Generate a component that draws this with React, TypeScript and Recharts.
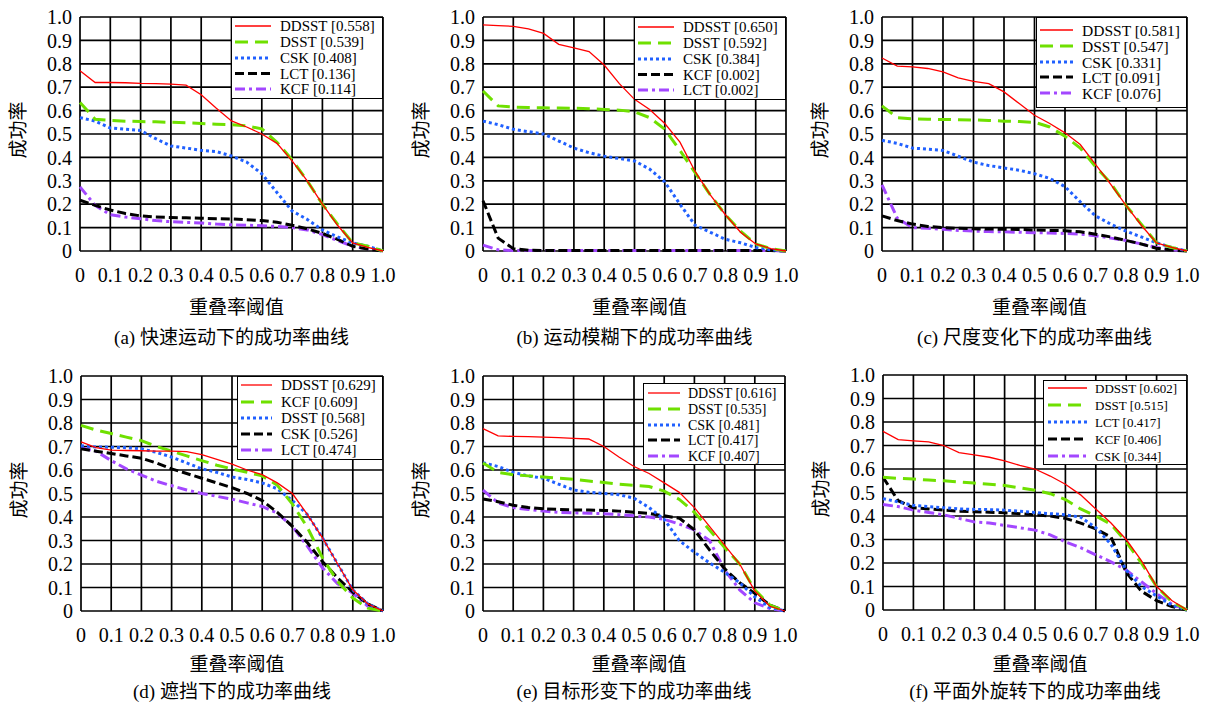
import React from "react";
import { LineChart, Line, XAxis, YAxis, CartesianGrid, Legend } from "recharts";

const thresholds = [0, 0.05, 0.1, 0.15, 0.2, 0.25, 0.3, 0.35, 0.4, 0.45, 0.5, 0.55, 0.6, 0.65, 0.7, 0.75, 0.8, 0.85, 0.9, 0.95, 1.0];
const axisTicks = [0, 0.1, 0.2, 0.3, 0.4, 0.5, 0.6, 0.7, 0.8, 0.9, 1.0];
const axisTickLabels = ["0", "0.1", "0.2", "0.3", "0.4", "0.5", "0.6", "0.7", "0.8", "0.9", "1.0"];

const xTitle = "重叠率阈值";
const yTitle = "成功率";

// (a) fast motion
const fastNames = ["DDSST", "DSST", "CSK", "LCT", "KCF"];
const fastScores = ["0.558", "0.539", "0.408", "0.136", "0.114"];
const fastDDSST = [0.77, 0.72, 0.72, 0.719, 0.716, 0.715, 0.713, 0.709, 0.668, 0.61, 0.556, 0.53, 0.5, 0.46, 0.385, 0.3, 0.2, 0.11, 0.035, 0.015, 0];
const fastDSST = [0.635, 0.563, 0.558, 0.555, 0.553, 0.552, 0.55, 0.548, 0.545, 0.542, 0.54, 0.535, 0.522, 0.465, 0.39, 0.3, 0.2, 0.115, 0.035, 0.02, 0];
const fastCSK = [0.57, 0.555, 0.526, 0.52, 0.515, 0.48, 0.449, 0.44, 0.43, 0.425, 0.406, 0.38, 0.33, 0.25, 0.171, 0.135, 0.09, 0.06, 0.035, 0.02, 0];
const fastLCT = [0.217, 0.195, 0.175, 0.16, 0.15, 0.145, 0.143, 0.142, 0.14, 0.138, 0.137, 0.134, 0.13, 0.123, 0.11, 0.095, 0.075, 0.05, 0.02, 0.008, 0];
const fastKCF = [0.274, 0.195, 0.155, 0.145, 0.138, 0.13, 0.125, 0.122, 0.12, 0.115, 0.112, 0.11, 0.108, 0.105, 0.1, 0.09, 0.07, 0.045, 0.02, 0.01, 0];

// (b) motion blur
const blurNames = ["DDSST", "DSST", "CSK", "KCF", "LCT"];
const blurScores = ["0.650", "0.592", "0.384", "0.002", "0.002"];
const blurDDSST = [0.966, 0.963, 0.96, 0.949, 0.93, 0.883, 0.868, 0.852, 0.795, 0.715, 0.648, 0.605, 0.545, 0.465, 0.34, 0.24, 0.155, 0.08, 0.03, 0.01, 0];
const blurDSST = [0.684, 0.62, 0.615, 0.613, 0.612, 0.611, 0.61, 0.608, 0.605, 0.602, 0.595, 0.57, 0.52, 0.43, 0.335, 0.24, 0.155, 0.085, 0.03, 0.01, 0];
const blurCSK = [0.555, 0.54, 0.52, 0.51, 0.5, 0.47, 0.44, 0.42, 0.405, 0.395, 0.385, 0.35, 0.295, 0.2, 0.11, 0.08, 0.05, 0.035, 0.015, 0.005, 0];
const blurKCF = [0.215, 0.055, 0.01, 0.003, 0.002, 0.002, 0.002, 0.002, 0.002, 0.002, 0.002, 0.002, 0.002, 0.002, 0.002, 0.002, 0.002, 0.002, 0.002, 0.002, 0];
const blurLCT = [0.025, 0.005, 0.002, 0.002, 0.002, 0.002, 0.002, 0.002, 0.002, 0.002, 0.002, 0.002, 0.002, 0.002, 0.002, 0.002, 0.002, 0.002, 0.002, 0.002, 0];

// (c) scale variation
const scaleNames = ["DDSST", "DSST", "CSK", "LCT", "KCF"];
const scaleScores = ["0.581", "0.547", "0.331", "0.091", "0.076"];
const scaleDDSST = [0.825, 0.79, 0.787, 0.78, 0.765, 0.74, 0.725, 0.715, 0.68, 0.63, 0.58, 0.545, 0.505, 0.455, 0.37, 0.285, 0.195, 0.11, 0.035, 0.015, 0];
const scaleDSST = [0.62, 0.57, 0.565, 0.563, 0.562, 0.561, 0.56, 0.558, 0.555, 0.553, 0.55, 0.53, 0.49, 0.44, 0.36, 0.29, 0.195, 0.115, 0.035, 0.015, 0];
const scaleCSK = [0.473, 0.46, 0.44, 0.435, 0.43, 0.405, 0.38, 0.365, 0.355, 0.345, 0.33, 0.31, 0.275, 0.21, 0.15, 0.115, 0.085, 0.06, 0.035, 0.015, 0];
const scaleLCT = [0.15, 0.13, 0.115, 0.105, 0.1, 0.097, 0.095, 0.094, 0.093, 0.092, 0.09, 0.088, 0.087, 0.082, 0.072, 0.06, 0.045, 0.03, 0.012, 0.004, 0];
const scaleKCF = [0.283, 0.14, 0.1, 0.097, 0.093, 0.088, 0.085, 0.083, 0.082, 0.08, 0.078, 0.077, 0.075, 0.072, 0.065, 0.055, 0.045, 0.03, 0.015, 0.005, 0];

// (d) occlusion
const occNames = ["DDSST", "KCF", "DSST", "CSK", "LCT"];
const occScores = ["0.629", "0.609", "0.568", "0.526", "0.474"];
const occDDSST = [0.72, 0.695, 0.685, 0.683, 0.682, 0.68, 0.68, 0.678, 0.665, 0.645, 0.625, 0.6, 0.58, 0.545, 0.5, 0.41, 0.31, 0.2, 0.09, 0.03, 0];
const occKCF = [0.79, 0.77, 0.755, 0.74, 0.725, 0.7, 0.68, 0.66, 0.64, 0.62, 0.605, 0.59, 0.575, 0.535, 0.455, 0.355, 0.225, 0.125, 0.055, 0.012, 0];
const occDSST = [0.703, 0.698, 0.697, 0.695, 0.69, 0.675, 0.655, 0.63, 0.605, 0.59, 0.57, 0.56, 0.545, 0.52, 0.47, 0.41, 0.31, 0.2, 0.09, 0.03, 0];
const occCSK = [0.69, 0.68, 0.67, 0.66, 0.65, 0.63, 0.605, 0.585, 0.565, 0.545, 0.525, 0.5, 0.47, 0.42, 0.36, 0.29, 0.21, 0.14, 0.08, 0.03, 0];
const occLCT = [0.695, 0.68, 0.64, 0.605, 0.578, 0.552, 0.533, 0.515, 0.5, 0.488, 0.476, 0.46, 0.445, 0.416, 0.36, 0.275, 0.183, 0.116, 0.076, 0.02, 0];

// (e) deformation
const defNames = ["DDSST", "DSST", "CSK", "LCT", "KCF"];
const defScores = ["0.616", "0.535", "0.481", "0.417", "0.407"];
const defDDSST = [0.776, 0.745, 0.743, 0.742, 0.74, 0.738, 0.735, 0.732, 0.7, 0.655, 0.615, 0.585, 0.545, 0.505, 0.44, 0.36, 0.28, 0.2, 0.085, 0.02, 0];
const defDSST = [0.63, 0.59, 0.58, 0.575, 0.57, 0.565, 0.56, 0.553, 0.547, 0.54, 0.535, 0.53, 0.51, 0.475, 0.42, 0.345, 0.27, 0.2, 0.09, 0.025, 0];
const defCSK = [0.631, 0.615, 0.59, 0.575, 0.565, 0.54, 0.515, 0.505, 0.5, 0.495, 0.48, 0.44, 0.39, 0.3, 0.25, 0.205, 0.165, 0.12, 0.06, 0.015, 0];
const defLCT = [0.477, 0.465, 0.45, 0.44, 0.435, 0.432, 0.43, 0.43, 0.428, 0.425, 0.42, 0.415, 0.405, 0.395, 0.345, 0.26, 0.18, 0.12, 0.075, 0.025, 0];
const defKCF = [0.514, 0.46, 0.44, 0.432, 0.425, 0.42, 0.418, 0.416, 0.414, 0.41, 0.405, 0.4, 0.39, 0.37, 0.345, 0.3, 0.175, 0.09, 0.035, 0.01, 0];

// (f) out-of-plane rotation
const oprNames = ["DDSST", "DSST", "LCT", "KCF", "CSK"];
const oprScores = ["0.602", "0.515", "0.417", "0.406", "0.344"];
const oprDDSST = [0.76, 0.725, 0.72, 0.715, 0.7, 0.67, 0.66, 0.65, 0.635, 0.615, 0.6, 0.57, 0.535, 0.49, 0.43, 0.37, 0.3, 0.21, 0.1, 0.04, 0];
const oprDSST = [0.565, 0.56, 0.557, 0.553, 0.55, 0.545, 0.54, 0.535, 0.53, 0.52, 0.51, 0.495, 0.47, 0.43, 0.4, 0.365, 0.29, 0.2, 0.1, 0.035, 0];
const oprLCT = [0.474, 0.46, 0.445, 0.44, 0.435, 0.43, 0.428, 0.427, 0.425, 0.42, 0.415, 0.41, 0.405, 0.395, 0.35, 0.28, 0.17, 0.1, 0.06, 0.02, 0];
const oprKCF = [0.565, 0.465, 0.435, 0.43, 0.425, 0.42, 0.418, 0.416, 0.414, 0.41, 0.405, 0.4, 0.39, 0.37, 0.345, 0.31, 0.16, 0.08, 0.04, 0.015, 0];
const oprCSK = [0.449, 0.44, 0.425, 0.415, 0.405, 0.39, 0.375, 0.37, 0.36, 0.35, 0.34, 0.32, 0.29, 0.265, 0.235, 0.205, 0.17, 0.12, 0.07, 0.025, 0];

const SERIF = "'Liberation Serif', 'Noto Sans CJK SC', serif";

// line style by legend position (rank), not by tracker name
const rankStyles = [
  { color: "#ff0000", width: 1.3, dash: undefined as string | undefined },
  { color: "#6fe000", width: 3, dash: "13 7" },
  { color: "#2060ff", width: 3, dash: "3 3" },
  { color: "#000000", width: 3, dash: "9 4" },
  { color: "#a347ff", width: 3, dash: "10 4 3 4" },
];

const panels = [
  {
    id: "a", caption: "(a) 快速运动下的成功率曲线", names: fastNames, scores: fastScores,
    series: [fastDDSST, fastDSST, fastCSK, fastLCT, fastKCF],
    plot: { x: 80, y: 17, w: 303, h: 234 }, xLabelY: 308, captionY: 338,
    legend: { x: 231, y: 17, w: 152, h: 82, rows: [9, 25, 41, 56.5, 72], line: [4, 40], textX: 49, font: 15 },
  },
  {
    id: "b", caption: "(b) 运动模糊下的成功率曲线", names: blurNames, scores: blurScores,
    series: [blurDDSST, blurDSST, blurCSK, blurKCF, blurLCT],
    plot: { x: 483, y: 17, w: 303, h: 234 }, xLabelY: 308, captionY: 338,
    legend: { x: 634, y: 17, w: 152, h: 83, rows: [10, 26, 42, 57.5, 73], line: [4, 40], textX: 49, font: 15 },
  },
  {
    id: "c", caption: "(c) 尺度变化下的成功率曲线", names: scaleNames, scores: scaleScores,
    series: [scaleDDSST, scaleDSST, scaleCSK, scaleLCT, scaleKCF],
    plot: { x: 882, y: 17, w: 305, h: 234 }, xLabelY: 308, captionY: 338,
    legend: { x: 1036, y: 17, w: 151, h: 91, rows: [13, 29, 45, 60, 76], line: [4, 37], textX: 46, font: 15.5 },
  },
  {
    id: "d", caption: "(d) 遮挡下的成功率曲线", names: occNames, scores: occScores,
    series: [occDDSST, occKCF, occDSST, occCSK, occLCT],
    plot: { x: 81, y: 376, w: 302, h: 235 }, xLabelY: 665, captionY: 692,
    legend: { x: 237, y: 376, w: 146, h: 84, rows: [9, 26, 42, 58, 74], line: [4, 35], textX: 44, font: 15 },
  },
  {
    id: "e", caption: "(e) 目标形变下的成功率曲线", names: defNames, scores: defScores,
    series: [defDDSST, defDSST, defCSK, defLCT, defKCF],
    plot: { x: 483, y: 376, w: 302, h: 235 }, xLabelY: 665, captionY: 692,
    legend: { x: 643, y: 383, w: 142, h: 82, rows: [10, 26, 42, 57, 73], line: [5, 37], textX: 45, font: 14 },
  },
  {
    id: "f", caption: "(f) 平面外旋转下的成功率曲线", names: oprNames, scores: oprScores,
    series: [oprDDSST, oprDSST, oprLCT, oprKCF, oprCSK],
    plot: { x: 883, y: 375, w: 304, h: 235 }, xLabelY: 665, captionY: 692,
    legend: { x: 1043, y: 380, w: 144, h: 85, rows: [8, 25, 42, 59, 76], line: [5, 44], textX: 52, font: 13 },
  },
];

type PanelDef = (typeof panels)[number];

const fmtTick = (v: number) => axisTickLabels[axisTicks.findIndex((t) => Math.abs(t - v) < 1e-6)] ?? String(v);

const PanelLegend = ({ p }: { p: PanelDef }) => {
  const L = p.legend;
  return (
    <svg width={L.w} height={L.h} style={{ display: "block" }}>
      <rect x={0.5} y={0.5} width={L.w - 1} height={L.h - 1} fill="#fff" stroke="#000" strokeWidth={1} />
      {p.names.map((name, i) => {
        const st = rankStyles[i];
        return (
          <g key={name}>
            <line x1={L.line[0]} x2={L.line[1]} y1={L.rows[i]} y2={L.rows[i]} stroke={st.color} strokeWidth={st.width} strokeDasharray={st.dash} />
            <text x={L.textX} y={L.rows[i]} dominantBaseline="central" fontFamily={SERIF} fontSize={L.font} fill="#000">
              {`${name} [${p.scores[i]}]`}
            </text>
          </g>
        );
      })}
    </svg>
  );
};

const Panel = ({ p }: { p: PanelDef }) => {
  const padL = 80, padT = 17, padR = 17, padB = 40;
  const left = p.plot.x - padL;
  const top = p.plot.y - padT;
  const width = p.plot.w + padL + padR;
  const height = p.plot.h + padT + padB;
  const data = thresholds.map((t, i) => {
    const row: Record<string, number> = { t };
    p.series.forEach((s, k) => (row[`s${k}`] = s[i]));
    return row;
  });
  const order = [4, 3, 2, 1, 0];
  const cx = p.plot.x + p.plot.w / 2;
  const cy = p.plot.y + p.plot.h / 2;
  return (
    <>
      <div style={{ position: "absolute", left, top }}>
        <LineChart width={width} height={height} data={data} margin={{ top: padT, right: padR, left: 0, bottom: 0 }}>
          <CartesianGrid stroke="#000" strokeWidth={1.7} />
          <XAxis
            dataKey="t" type="number" domain={[0, 1]} ticks={axisTicks} interval={0}
            tickFormatter={fmtTick} height={padB} tickSize={0} tickMargin={17}
            axisLine={false} tickLine={false}
            tick={{ fontFamily: SERIF, fontSize: 20, fill: "#000" }}
          />
          <YAxis
            type="number" domain={[0, 1]} ticks={axisTicks} interval={0}
            tickFormatter={fmtTick} width={padL} tickSize={0} tickMargin={8}
            axisLine={false} tickLine={false}
            tick={{ fontFamily: SERIF, fontSize: 20, fill: "#000" }}
          />
          {order.map((k) => (
            <Line
              key={k} type="linear" dataKey={`s${k}`} name={p.names[k]}
              stroke={rankStyles[k].color} strokeWidth={rankStyles[k].width}
              strokeDasharray={rankStyles[k].dash} dot={false} activeDot={false}
              isAnimationActive={false}
            />
          ))}
          <Legend
            layout="horizontal" verticalAlign="middle" align="center"
            wrapperStyle={{ left: p.legend.x - left, top: p.legend.y - top, width: p.legend.w, height: p.legend.h, margin: 0, padding: 0 }}
            content={() => <PanelLegend p={p} />}
          />
        </LineChart>
      </div>
      <div style={{ position: "absolute", left: p.plot.x - 61 - 40, top: cy - 16, width: 80, height: 24, lineHeight: "24px", textAlign: "center", fontFamily: SERIF, fontSize: 19, transform: "rotate(-90deg)" }}>
        {yTitle}
      </div>
      <div style={{ position: "absolute", left: cx + 5 - 150, top: p.xLabelY - 12, width: 300, height: 24, lineHeight: "24px", textAlign: "center", fontFamily: SERIF, fontSize: 19 }}>
        {xTitle}
      </div>
      <div style={{ position: "absolute", left: cx - 200, top: p.captionY - 12, width: 400, height: 24, lineHeight: "24px", textAlign: "center", fontFamily: SERIF, fontSize: 19 }}>
        {p.caption}
      </div>
    </>
  );
};

export default function App() {
  return (
    <div style={{ position: "absolute", left: 0, top: 0, width: 1205, height: 706, background: "#fff", overflow: "hidden" }}>
      {panels.map((p) => (
        <Panel key={p.id} p={p} />
      ))}
    </div>
  );
}
